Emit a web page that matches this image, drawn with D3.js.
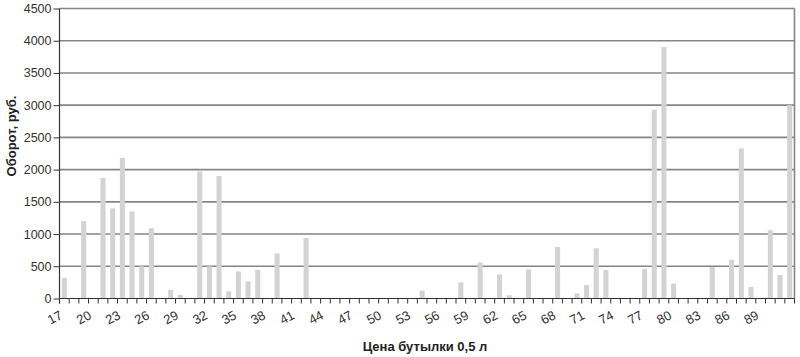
<!DOCTYPE html>
<html><head><meta charset="utf-8">
<script src="https://cdn.jsdelivr.net/npm/d3@7"></script>
<style>body{margin:0;background:#fff} svg{display:block}</style>
</head><body><svg id="c" width="800" height="357"></svg>
<script>
const categories = [17,18,19,20,21,22,23,24,25,26,27,28,29,30,31,32,33,34,35,36,37,38,39,40,41,42,43,44,45,46,47,48,49,50,51,52,53,54,55,56,57,58,59,60,61,62,63,64,65,66,67,68,69,70,71,72,73,74,75,76,77,78,79,80,81,82,83,84,85,86,87,88,89,90,91,92];
const turnover = [320,0,1200,0,1870,1400,2180,1350,500,1090,0,135,57,0,1970,500,1900,110,420,265,445,0,700,0,0,940,0,0,0,0,0,0,0,0,0,0,0,120,0,0,0,250,0,560,0,375,51,0,450,0,0,800,0,78,210,780,440,0,0,0,460,2930,3900,230,0,0,0,490,0,600,2330,180,0,1060,365,3000];
const yTickValues = [0,500,1000,1500,2000,2500,3000,3500,4000,4500];
const xLabelValues = [17,20,23,26,29,32,35,38,41,44,47,50,53,56,59,62,65,68,71,74,77,80,83,86,89];
const yTitle = "Оборот, руб.";
const xTitle = "Цена бутылки 0,5 л";

const svg = d3.select("#c");
const font = "'Liberation Sans', Arial, sans-serif";
const pLeft = 59.5, pRight = 794.5, pTop = 8.5, pBottom = 298.5;
const x = d3.scaleBand().domain(categories).range([pLeft, pRight]).paddingInner(0.48).paddingOuter(0.24);
const y = d3.scaleLinear().domain([0, 4500]).range([pBottom, pTop]);

// gridlines
svg.append("g").selectAll("line").data(yTickValues.filter(v => v > 0)).join("line")
  .attr("x1", pLeft).attr("x2", pRight)
  .attr("y1", d => y(d)).attr("y2", d => y(d))
  .attr("stroke", "#858585").attr("stroke-width", 1.6);
// right border
svg.append("line").attr("x1", pRight).attr("x2", pRight).attr("y1", pTop).attr("y2", pBottom)
  .attr("stroke", "#858585").attr("stroke-width", 1.6);

// bars
svg.append("g").selectAll("rect").data(categories.map((c, i) => ({c, v: turnover[i]})).filter(d => d.v > 0)).join("rect")
  .attr("x", d => x(d.c)).attr("width", x.bandwidth())
  .attr("y", d => y(d.v)).attr("height", d => pBottom - y(d.v))
  .attr("fill", "#d3d3d3");

// y axis
const yAxis = svg.append("g").attr("transform", `translate(${pLeft},0)`)
  .call(d3.axisLeft(y).tickValues(yTickValues).tickSize(6).tickPadding(2).tickFormat(d3.format("d")));
yAxis.select(".domain").remove();
yAxis.selectAll(".tick line").attr("stroke", "#333");
yAxis.selectAll(".tick text").attr("font-family", font).attr("font-size", 12.5).attr("fill", "#333");
svg.append("line").attr("x1", pLeft).attr("x2", pLeft).attr("y1", pTop).attr("y2", pBottom + 5)
  .attr("stroke", "#333").attr("stroke-width", 1.2);

// x axis
svg.append("line").attr("x1", pLeft).attr("x2", pRight).attr("y1", pBottom).attr("y2", pBottom)
  .attr("stroke", "#333").attr("stroke-width", 1.2);
const bounds = categories.map((c, i) => pLeft + i * x.step()).concat([pRight]);
svg.append("g").selectAll("line").data(bounds).join("line")
  .attr("x1", d => d).attr("x2", d => d).attr("y1", pBottom).attr("y2", pBottom + 5)
  .attr("stroke", "#333");
svg.append("g").selectAll("text").data(xLabelValues).join("text")
  .attr("transform", d => `translate(${x(d) + x.bandwidth() / 2 - 1},318) rotate(-28)`)
  .attr("text-anchor", "end")
  .attr("font-family", font).attr("font-size", 13).attr("fill", "#333")
  .text(d => d);

// titles
svg.append("text").attr("transform", "translate(16,136) rotate(-90)")
  .attr("text-anchor", "middle").attr("font-family", font).attr("font-size", 13)
  .attr("font-weight", "bold").attr("fill", "#222").text(yTitle);
svg.append("text").attr("x", 425).attr("y", 351)
  .attr("text-anchor", "middle").attr("font-family", font).attr("font-size", 13)
  .attr("font-weight", "bold").attr("fill", "#222").text(xTitle);
</script></body></html>
